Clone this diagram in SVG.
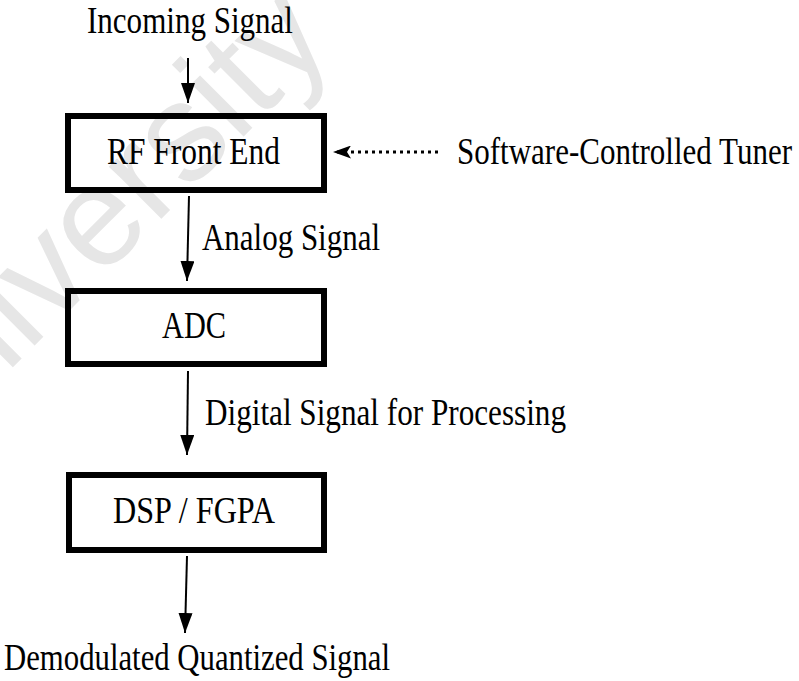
<svg xmlns="http://www.w3.org/2000/svg" width="799" height="681" viewBox="0 0 799 681">
  <style>
    .lbl { font-size: 37px; fill: #000; }
    .box { fill: none; stroke: #000; stroke-width: 6; }
    .flow { stroke: #000; stroke-width: 2; fill: none; marker-end: url(#head); }
    .ctrl { stroke: #000; stroke-width: 3; fill: none; stroke-dasharray: 3 4; marker-end: url(#headSmall); }
    .mark { font-family: "Liberation Sans", Arial, sans-serif; font-size: 140px; fill: #e6e6e6; }
  </style>
  <defs>
    <marker id="head" markerUnits="userSpaceOnUse" markerWidth="20" markerHeight="14" refX="20" refY="7" orient="auto">
      <path d="M0,0 L20,7 L0,14 z" fill="#000"/>
    </marker>
    <marker id="headSmall" markerUnits="userSpaceOnUse" markerWidth="18" markerHeight="13" refX="18" refY="6.5" orient="auto">
      <path d="M0,0 L18,6.5 L0,13 L4,6.5 z" fill="#000"/>
    </marker>
  </defs>

  <rect width="799" height="681" fill="#fff"/>

  <!-- background watermark -->
  <text class="mark" transform="translate(50,330) rotate(-45)" x="-210" y="0">University</text>

  <!-- connectors -->
  <g id="connectors">
    <line class="flow" x1="188" y1="58" x2="188" y2="103"/>
    <line class="flow" x1="189" y1="196" x2="187" y2="281"/>
    <line class="flow" x1="188" y1="371" x2="187" y2="455"/>
    <line class="flow" x1="187" y1="556" x2="185" y2="633"/>
    <line class="ctrl" x1="438" y1="152" x2="333" y2="152"/>
  </g>

  <g font-family="Liberation Serif, Times New Roman, Times, serif">
    <g id="incoming">
      <text class="lbl" x="87" y="33" textLength="206" lengthAdjust="spacingAndGlyphs">Incoming Signal</text>
    </g>

    <g id="rf-front-end">
      <rect class="box" x="68" y="116" width="256" height="74"/>
      <text class="lbl" x="107" y="164" textLength="173" lengthAdjust="spacingAndGlyphs">RF Front End</text>
    </g>

    <g id="tuner">
      <text class="lbl" x="457" y="164" textLength="335" lengthAdjust="spacingAndGlyphs">Software-Controlled Tuner</text>
    </g>

    <g id="analog-label">
      <text class="lbl" x="202" y="250" textLength="178" lengthAdjust="spacingAndGlyphs">Analog Signal</text>
    </g>

    <g id="adc">
      <rect class="box" x="68" y="291" width="256" height="73"/>
      <text class="lbl" x="162" y="338" textLength="64" lengthAdjust="spacingAndGlyphs">ADC</text>
    </g>

    <g id="digital-label">
      <text class="lbl" x="205" y="425" textLength="361" lengthAdjust="spacingAndGlyphs">Digital Signal  for Processing</text>
    </g>

    <g id="dsp">
      <rect class="box" x="69" y="475" width="255" height="75"/>
      <text class="lbl" x="113" y="523" textLength="162" lengthAdjust="spacingAndGlyphs">DSP / FGPA</text>
    </g>

    <g id="output">
      <text class="lbl" x="4" y="670" textLength="386" lengthAdjust="spacingAndGlyphs">Demodulated Quantized Signal</text>
    </g>
  </g>
</svg>
